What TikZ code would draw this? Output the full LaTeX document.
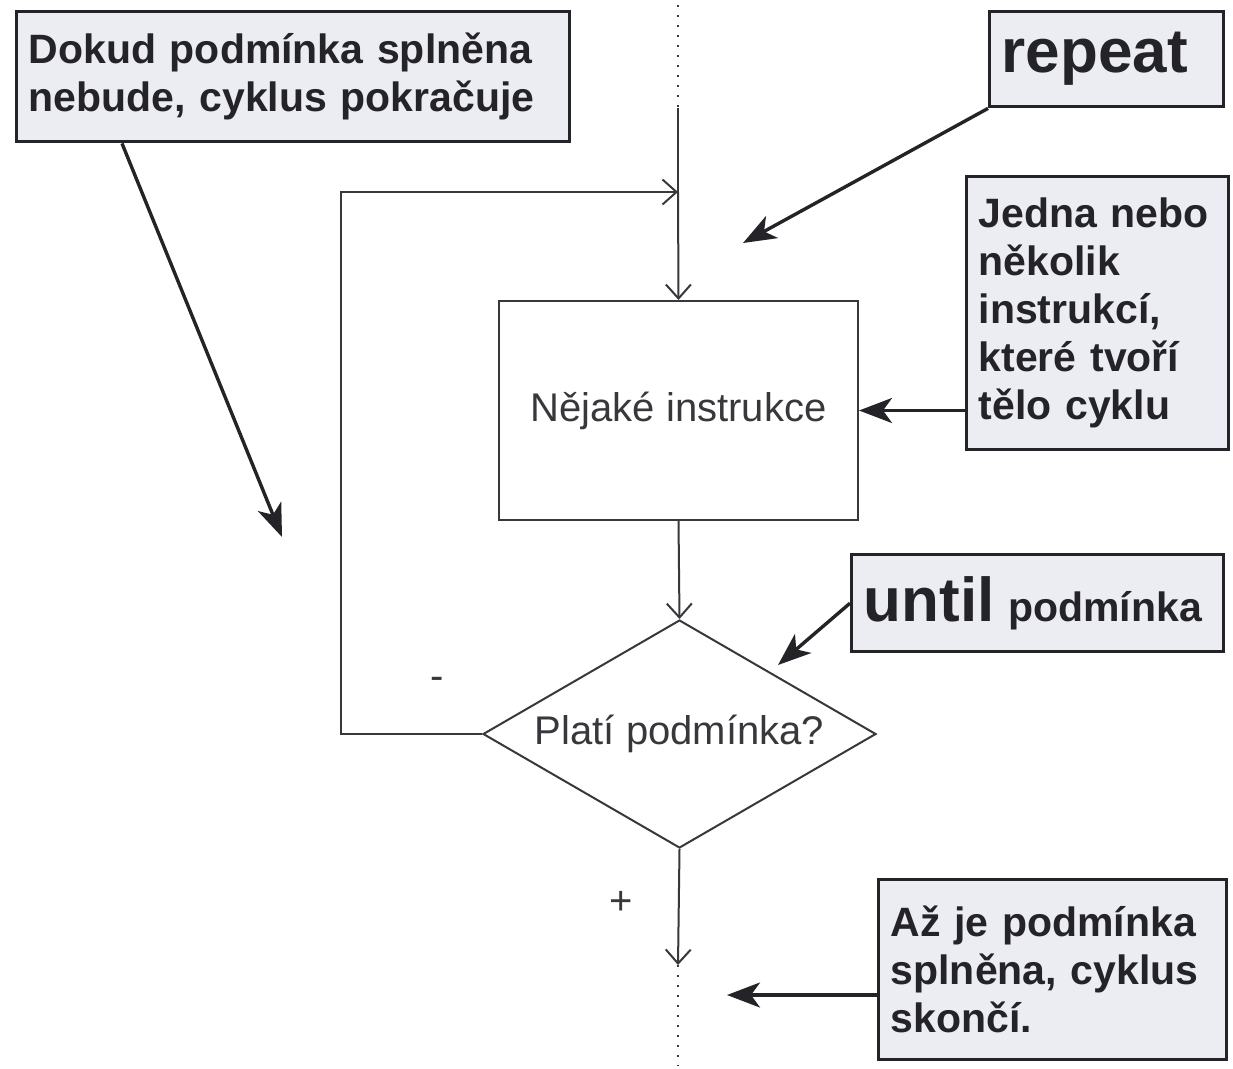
\documentclass[tikz,border=0pt]{standalone}
\usepackage{fontspec}
\setmainfont{Liberation Sans}
\usetikzlibrary{shapes.geometric,arrows.meta,calc}
\definecolor{notefill}{RGB}{236,236,243}
\definecolor{ink}{RGB}{36,36,40}
\definecolor{flowink}{RGB}{56,56,60}
\begin{document}
\begin{tikzpicture}[x=1pt,y=-1pt,
  note/.style={draw=ink, line width=3.4pt, fill=notefill, text=ink,
    font=\bfseries\fontsize{41}{48}\selectfont, align=left,
    inner xsep=12pt, inner ysep=0pt, anchor=north west},
  bignote/.style={note, font=\bfseries\fontsize{62}{70}\selectfont},
  flowbox/.style={draw=flowink, line width=2pt, text=flowink,
    font=\fontsize{40}{46}\selectfont},
  flow/.style={draw=flowink, line width=2pt, -{Straight Barb[length=14pt,width=25pt,line width=2pt]}},
  dots/.style={draw=flowink, line width=2pt, dash pattern=on 2pt off 8pt},
  pointer/.style={draw=ink, line width=3.4pt, -{Stealth[length=33pt,width=25pt,inset=9pt]}},
  sign/.style={text=flowink, font=\fontsize{40}{44}\selectfont}]
\useasboundingbox (0,0) rectangle (1233,1068);

% flowchart of the repeat-until loop
\node[flowbox, rectangle, minimum width=359pt, minimum height=219pt, inner sep=0pt]
  (body) at (678.5,410.5) {Nějaké instrukce};
\node[flowbox, diamond, shape aspect=1.72, minimum width=393pt, minimum height=228pt, inner sep=0pt]
  (cond) at (679.5,734) {Platí podmínka?};

\coordinate (top) at (678,5);
\coordinate (entry) at (678,108);
\coordinate (join) at (678,192);
\coordinate (exit) at (678,965);
\coordinate (bottom) at (678,1066);

\draw[dots] (top) -- (entry);
\draw[flowink, line width=2pt] (entry) -- (join);
\draw[flow] (join) -- (body.north);
\draw[flow] (body.south) -- (cond.north);
\draw[flow] (cond.west) -- ++(-141,0) |- (join);
\draw[flow] (cond.south) -- (exit);
\draw[dots] (exit) -- (bottom);

\node[sign] (minus) at (437,683) {-};
\node[sign] (plus) at (621,903) {+};

% explanatory notes
\node[note, text width=529pt, minimum height=130pt] (n1) at (15,10)
  {Dokud podmínka splněna\\nebude, cyklus pokračuje};
\node[bignote, text width=210pt, minimum height=95pt] (n2) at (988,10) {repeat};
\node[note, text width=238pt, minimum height=273pt] (n3) at (965,175)
  {Jedna nebo\\několik\\instrukcí,\\které tvoří\\tělo cyklu};
\node[note, text width=348pt, minimum height=97pt] (n4) at (850,553)
  {{\fontsize{62}{70}\selectfont until} podmínka};
\node[note, text width=324pt, minimum height=180pt] (n5) at (877,878)
  {Až je podmínka\\splněna, cyklus\\skončí.};

\coordinate (p1) at (282,537);
\coordinate (p2) at (743,243);
\coordinate (p4) at (778,665);
\coordinate (p5) at (727,995);

\draw[pointer] ($(n1.south west)+(107,0)$) -- (p1);
\draw[pointer] (n2.south west) -- (p2);
\draw[pointer] (body.east -| n3.west) -- (body.east);
\draw[pointer] (n4.west) -- (p4);
\draw[pointer] (n5.west |- p5) -- (p5);
\end{tikzpicture}
\end{document}
